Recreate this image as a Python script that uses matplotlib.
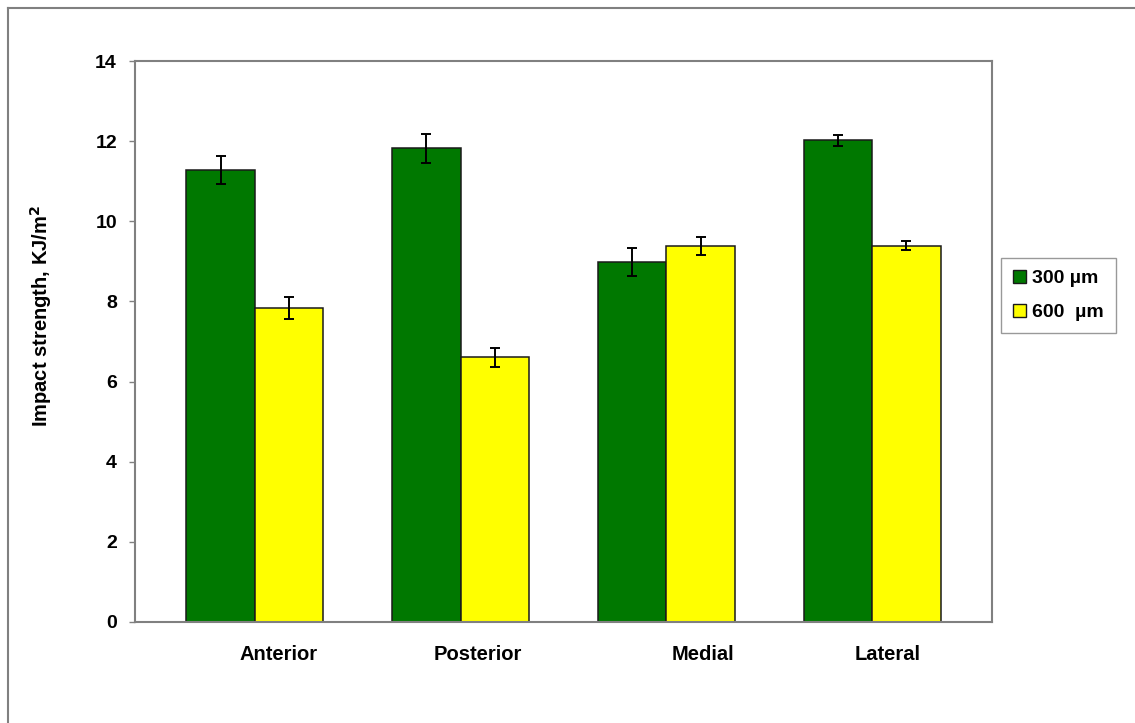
import matplotlib
matplotlib.use("Agg")
import matplotlib.pyplot as plt
from matplotlib.lines import Line2D
from matplotlib.patches import Patch
import numpy as np

plt.rcParams['font.family'] = ['Liberation Sans', 'DejaVu Sans']
plt.rcParams['font.weight'] = 'bold'

categories = ["Anterior", "Posterior", "Medial", "Lateral"]
series_names = ["300 \u00b5m", "600  \u00b5m"]
values_300 = [11.28, 11.82, 8.98, 12.02]
errors_300 = [0.35, 0.37, 0.35, 0.13]
values_600 = [7.83, 6.61, 9.39, 9.39]
errors_600 = [0.28, 0.24, 0.22, 0.11]
yticks = [0, 2, 4, 6, 8, 10, 12, 14]

# horizontal nudge of each category label relative to its bar pair
label_shift = [0.117, 0.083, 0.18, 0.078]

green = "#007800"
yellow = "#ffff00"
grey = "#808080"

fig = plt.figure(figsize=(11.35, 7.23), dpi=100)
ax = fig.add_axes([135 / 1135, 101 / 723, 857 / 1135, 561 / 723])

x = np.arange(len(categories))
w = 0.333
err_kw = dict(ecolor="black", elinewidth=1.4, capsize=3.5, capthick=1.4)
ax.bar(x - w / 2, values_300, width=w, color=green, edgecolor="#1a1a1a",
       linewidth=1.1, yerr=errors_300, error_kw=err_kw, zorder=2)
ax.bar(x + w / 2, values_600, width=w, color=yellow, edgecolor="#1a1a1a",
       linewidth=1.1, yerr=errors_600, error_kw=err_kw, zorder=2)

ax.set_xlim(-0.583, len(categories) - 1 + 0.583)
ax.set_ylim(0, 14)
ax.set_yticks(yticks)
ax.set_yticklabels([str(t) for t in yticks], fontsize=14, fontweight="bold")
ax.tick_params(axis="y", direction="out", length=4, width=1, color=grey, pad=9)
ax.set_xticks([])

for s in ax.spines.values():
    s.set_color(grey)
    s.set_linewidth(1.5)

for i, name in enumerate(categories):
    ax.text(x[i] + label_shift[i], -0.8, name, ha="center", va="center",
            fontsize=14.5, fontweight="bold")

ax.set_ylabel("Impact strength, KJ/m$^\\mathbf{2}$", fontsize=14.5,
              fontweight="bold")
ax.yaxis.set_label_coords(-0.095, 0.545)

handles = [Patch(facecolor=green, edgecolor="#1a1a1a", linewidth=1),
           Patch(facecolor=yellow, edgecolor="#1a1a1a", linewidth=1)]
leg = fig.legend(handles, series_names, loc="upper left",
                 bbox_to_anchor=(1001 / 1135, 1 - 258 / 723),
                 prop=dict(size=14, weight="bold"),
                 handlelength=0.7, handleheight=0.7, handletextpad=0.3,
                 labelspacing=0.85, borderpad=0.6, borderaxespad=0,
                 frameon=True, fancybox=False)
leg.get_frame().set_edgecolor(grey)
leg.get_frame().set_linewidth(1.0)

# outer chart-area border (left and top edges)
fig.add_artist(Line2D([8 / 1135, 8 / 1135], [0, 1 - 8 / 723],
                      transform=fig.transFigure, color=grey, linewidth=1.5))
fig.add_artist(Line2D([8 / 1135, 1], [1 - 8 / 723, 1 - 8 / 723],
                      transform=fig.transFigure, color=grey, linewidth=1.5))

fig.savefig("out.png", dpi=100, facecolor="white")
